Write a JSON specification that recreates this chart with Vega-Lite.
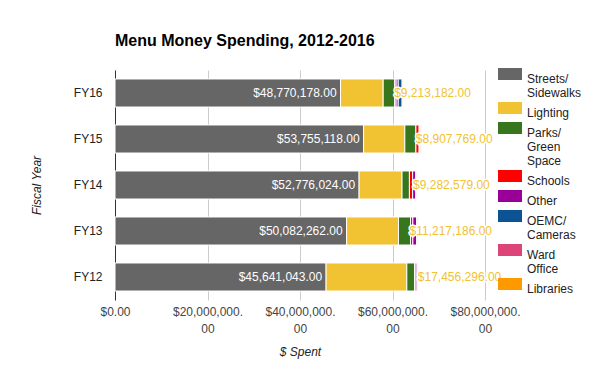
{
  "$schema": "https://vega.github.io/schema/vega-lite/v6.json",
  "width": 370,
  "height": 230,
  "autosize": {"type": "none"},
  "padding": {"left": 115, "top": 70, "right": 115, "bottom": 71},
  "config": {
    "font": "Liberation Sans",
    "view": {"stroke": null}
  },
  "title": {
    "text": "Menu Money Spending, 2012-2016",
    "anchor": "start",
    "frame": "group",
    "fontSize": 16,
    "fontWeight": "bold",
    "color": "#000000",
    "offset": 19
  },
  "data": {
    "values": [
      {"fy": "FY16", "category": "Streets/Sidewalks", "k": 0, "value": 48770178},
      {"fy": "FY16", "category": "Lighting", "k": 1, "value": 9213182},
      {"fy": "FY16", "category": "Parks/Green Space", "k": 2, "value": 2500000},
      {"fy": "FY16", "category": "Schools", "k": 3, "value": 300000},
      {"fy": "FY16", "category": "Other", "k": 4, "value": 450000},
      {"fy": "FY16", "category": "OEMC/Cameras", "k": 5, "value": 850000},
      {"fy": "FY16", "category": "Ward Office", "k": 6, "value": 150000},
      {"fy": "FY16", "category": "Libraries", "k": 7, "value": 150000},
      {"fy": "FY15", "category": "Streets/Sidewalks", "k": 0, "value": 53755118},
      {"fy": "FY15", "category": "Lighting", "k": 1, "value": 8907769},
      {"fy": "FY15", "category": "Parks/Green Space", "k": 2, "value": 2400000},
      {"fy": "FY15", "category": "Schools", "k": 3, "value": 700000},
      {"fy": "FY15", "category": "Other", "k": 4, "value": 100000},
      {"fy": "FY15", "category": "OEMC/Cameras", "k": 5, "value": 50000},
      {"fy": "FY15", "category": "Ward Office", "k": 6, "value": 200000},
      {"fy": "FY15", "category": "Libraries", "k": 7, "value": 100000},
      {"fy": "FY14", "category": "Streets/Sidewalks", "k": 0, "value": 52776024},
      {"fy": "FY14", "category": "Lighting", "k": 1, "value": 9282579},
      {"fy": "FY14", "category": "Parks/Green Space", "k": 2, "value": 1600000},
      {"fy": "FY14", "category": "Schools", "k": 3, "value": 700000},
      {"fy": "FY14", "category": "Other", "k": 4, "value": 700000},
      {"fy": "FY14", "category": "OEMC/Cameras", "k": 5, "value": 50000},
      {"fy": "FY14", "category": "Ward Office", "k": 6, "value": 150000},
      {"fy": "FY14", "category": "Libraries", "k": 7, "value": 100000},
      {"fy": "FY13", "category": "Streets/Sidewalks", "k": 0, "value": 50082262},
      {"fy": "FY13", "category": "Lighting", "k": 1, "value": 11217186},
      {"fy": "FY13", "category": "Parks/Green Space", "k": 2, "value": 2600000},
      {"fy": "FY13", "category": "Schools", "k": 3, "value": 500000},
      {"fy": "FY13", "category": "Other", "k": 4, "value": 850000},
      {"fy": "FY13", "category": "OEMC/Cameras", "k": 5, "value": 50000},
      {"fy": "FY13", "category": "Ward Office", "k": 6, "value": 200000},
      {"fy": "FY13", "category": "Libraries", "k": 7, "value": 100000},
      {"fy": "FY12", "category": "Streets/Sidewalks", "k": 0, "value": 45641043},
      {"fy": "FY12", "category": "Lighting", "k": 1, "value": 17456296},
      {"fy": "FY12", "category": "Parks/Green Space", "k": 2, "value": 1700000},
      {"fy": "FY12", "category": "Schools", "k": 3, "value": 100000},
      {"fy": "FY12", "category": "Other", "k": 4, "value": 400000},
      {"fy": "FY12", "category": "OEMC/Cameras", "k": 5, "value": 150000},
      {"fy": "FY12", "category": "Ward Office", "k": 6, "value": 150000},
      {"fy": "FY12", "category": "Libraries", "k": 7, "value": 100000}
    ]
  },
  "encoding": {
    "y": {
      "field": "fy",
      "type": "nominal",
      "sort": "descending",
      "scale": {"paddingInner": 0.39, "paddingOuter": 0.195},
      "axis": {
        "title": "Fiscal Year",
        "titleFontStyle": "italic",
        "titleFontWeight": "normal",
        "titleFontSize": 12,
        "titleColor": "#222222",
        "titlePadding": 30,
        "labelFontSize": 12,
        "labelColor": "#222222",
        "labelPadding": 13,
        "ticks": false,
        "domain": true,
        "domainColor": "#333333",
        "domainWidth": 1
      }
    },
    "x": {
      "field": "value",
      "type": "quantitative",
      "stack": "zero",
      "title": "$ Spent",
      "scale": {"domain": [0, 80000000], "nice": false},
      "axis": {
        "values": [0, 20000000, 40000000, 60000000, 80000000],
        "labelExpr": "datum.value == 0 ? '$0.00' : [format(datum.value, '$,') + '.', '00']",
        "grid": true,
        "gridColor": "#cccccc",
        "domain": false,
        "ticks": false,
        "labelPadding": 6,
        "labelFontSize": 12,
        "labelColor": "#444444",
        "labelLineHeight": 17,
        "labelFlush": false,
        "labelOverlap": false,
        "labelBound": false,
        "titleFontStyle": "italic",
        "titleFontWeight": "normal",
        "titleFontSize": 12,
        "titleColor": "#222222",
        "titlePadding": 12
      }
    },
    "order": {"field": "k", "type": "quantitative"}
  },
  "layer": [
    {
      "mark": {"type": "bar", "stroke": "white", "strokeWidth": 1},
      "encoding": {
        "color": {
          "field": "category",
          "type": "nominal",
          "scale": {
            "domain": ["Streets/Sidewalks", "Lighting", "Parks/Green Space", "Schools", "Other", "OEMC/Cameras", "Ward Office", "Libraries"],
            "range": ["#666666", "#f1c232", "#38761d", "#ff0000", "#990099", "#0b5394", "#dd4477", "#ff9900"]
          },
          "legend": {
            "orient": "none",
            "legendX": 383,
            "legendY": -2,
            "title": null,
            "padding": 0,
            "symbolType": "M-1,-1H3V1H-1Z",
            "symbolSize": 144,
            "symbolStrokeWidth": 0,
            "symbolOpacity": 1,
            "labelOffset": 17,
            "labelFontSize": 12,
            "labelColor": "#222222",
            "labelBaseline": "top",
            "labelLimit": 200,
            "rowPadding": 3,
            "labelExpr": "datum.label == 'Streets/Sidewalks' ? ['Streets/', 'Sidewalks'] : datum.label == 'Parks/Green Space' ? ['Parks/', 'Green', 'Space'] : datum.label == 'OEMC/Cameras' ? ['OEMC/', 'Cameras'] : datum.label == 'Ward Office' ? ['Ward', 'Office'] : datum.label",
            "encode": {
              "labels": {"update": {"lineHeight": {"value": 16}, "dy": {"value": -10}}}
            }
          }
        }
      }
    },
    {
      "transform": [{"filter": "datum.k == 0"}],
      "mark": {"type": "text", "align": "right", "baseline": "middle", "dx": -4, "color": "#ffffff", "fontSize": 12},
      "encoding": {
        "text": {"field": "value", "type": "quantitative", "format": "$,.2f"}
      }
    },
    {
      "transform": [{"filter": "datum.k <= 1"}],
      "mark": {"type": "text", "align": "left", "baseline": "middle", "dx": 11, "fill": "#ffffff", "stroke": "#ffffff", "strokeWidth": 3, "strokeJoin": "round", "fontSize": 12},
      "encoding": {
        "detail": {"field": "category"},
        "text": {"condition": {"test": "datum.k == 1", "field": "value", "type": "quantitative", "format": "$,.2f"}, "value": ""}
      }
    },
    {
      "transform": [{"filter": "datum.k <= 1"}],
      "mark": {"type": "text", "align": "left", "baseline": "middle", "dx": 11, "fill": "#f1c232", "fontSize": 12},
      "encoding": {
        "detail": {"field": "category"},
        "text": {"condition": {"test": "datum.k == 1", "field": "value", "type": "quantitative", "format": "$,.2f"}, "value": ""}
      }
    }
  ]
}
